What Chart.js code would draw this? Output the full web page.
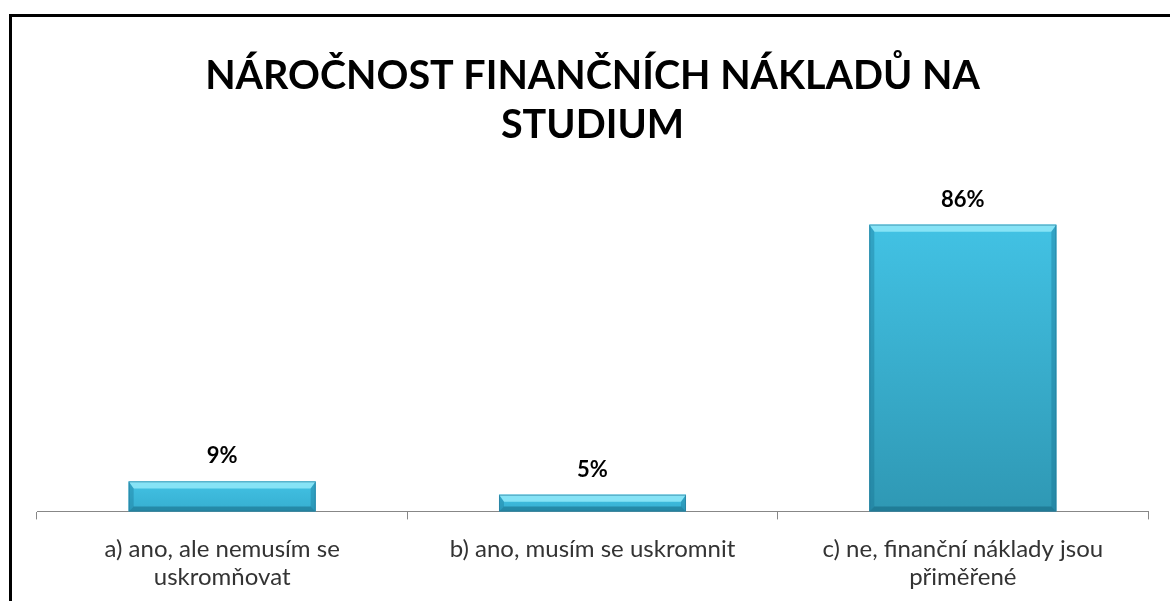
<!DOCTYPE html>
<html>
<head>
<meta charset="utf-8">
<script src="https://cdn.jsdelivr.net/npm/chart.js@4/dist/chart.umd.min.js"></script>
<style>
  body { margin: 0; background: #fff; overflow: hidden; }
  #wrap {
    position: absolute; left: 9px; top: 14px;
    width: 1158px; height: 590px;
    border-top: 3px solid #000; border-left: 3px solid #000;
  }
</style>
</head>
<body>
<div id="wrap"><canvas id="myChart" width="1158" height="590"></canvas></div>
<script>
const titleLines = ["NÁROČNOST FINANČNÍCH NÁKLADŮ NA", "STUDIUM"];
let labelsX = [
  ["a) ano, ale nemusím se", "uskromňovat"],
  "b) ano, musím se uskromnit",
  ["c) ne, finanční náklady jsou", "přiměřené"]
];
let valores = [9, 5, 86];

// bevelled bars + value labels drawn on top of the library's bar elements
const bevelBars = {
  id: "bevelBars",
  afterDatasetsDraw(chart) {
    const c = chart.ctx;
    chart.getDatasetMeta(0).data.forEach((bar, i) => {
      const l = bar.x - bar.width / 2, r = bar.x + bar.width / 2;
      const t = bar.y, b = bar.base;
      const h = b - t;
      const bv = Math.min(7, h / 2.2), sv = Math.min(5, h / 3);
      c.save();
      let g = c.createLinearGradient(0, t, 0, b);
      g.addColorStop(0, "#42c2e4");
      g.addColorStop(1, h > 60 ? "#2f98b4" : "#36aed0");
      c.fillStyle = g;
      c.fillRect(l, t, r - l, h);
      // top bevel
      c.fillStyle = "#86e3f6";
      c.beginPath();
      c.moveTo(l, t); c.lineTo(r, t); c.lineTo(r - sv, t + bv); c.lineTo(l + sv, t + bv);
      c.closePath(); c.fill();
      // sides
      c.fillStyle = "rgba(20,110,140,0.35)";
      c.beginPath();
      c.moveTo(l, t); c.lineTo(l + sv, t + bv); c.lineTo(l + sv, b - sv); c.lineTo(l, b);
      c.closePath(); c.fill();
      c.beginPath();
      c.moveTo(r, t); c.lineTo(r - sv, t + bv); c.lineTo(r - sv, b - sv); c.lineTo(r, b);
      c.closePath(); c.fill();
      // bottom
      c.fillStyle = "rgba(15,90,115,0.45)";
      c.beginPath();
      c.moveTo(l, b); c.lineTo(l + sv, b - sv); c.lineTo(r - sv, b - sv); c.lineTo(r, b);
      c.closePath(); c.fill();
      c.strokeStyle = "rgba(40,120,150,0.6)";
      c.lineWidth = 1;
      c.strokeRect(l + 0.5, t + 0.5, r - l - 1, h - 1);
      // value label
      c.fillStyle = "#000";
      c.font = "bold 22px Lato";
      c.textAlign = "center";
      c.textBaseline = "middle";
      c.fillText(valores[i] + "%", bar.x, t - 25);
      c.restore();
    });
  }
};

const ctx = document.getElementById("myChart");
new Chart(ctx, {
  type: "bar",
  data: {
    labels: labelsX,
    datasets: [{
      label: "",
      data: valores,
      backgroundColor: "#3bb6d8",
      barPercentage: 0.505,
      categoryPercentage: 1
    }]
  },
  plugins: [bevelBars],
  options: {
    responsive: false,
    animation: false,
    layout: { padding: { left: 25, right: 22, top: 0, bottom: 0 } },
    plugins: {
      legend: { display: false },
      tooltip: { enabled: false },
      title: {
        display: true,
        text: titleLines,
        color: "#000",
        font: { family: "Lato", size: 39.5, weight: "bold", lineHeight: 1.24 },
        padding: { top: 35, bottom: 28 }
      }
    },
    scales: {
      x: {
        grid: {
          display: true,
          drawOnChartArea: false,
          offset: true,
          tickLength: 8,
          color: "#878787"
        },
        border: { color: "#878787", width: 1 },
        ticks: {
          color: "#333333",
          padding: 15,
          maxRotation: 0,
          font: { family: "Lato", size: 24, lineHeight: 1.2 }
        }
      },
      y: {
        display: false,
        min: 0,
        max: 100,
        grid: { display: false }
      }
    }
  }
});
</script>
</body>
</html>
